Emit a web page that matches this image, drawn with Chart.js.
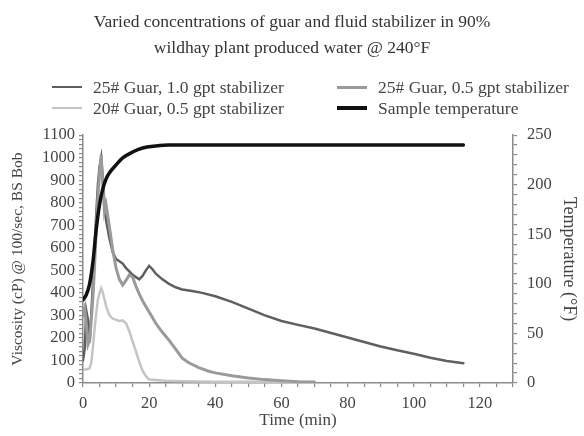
<!DOCTYPE html>
<html>
<head>
<meta charset="utf-8">
<script src="https://cdn.jsdelivr.net/npm/chart.js@4.4.0/dist/chart.umd.min.js"></script>
<style>
  body { margin: 0; background: #fff; }
  #wrap { position: relative; width: 584px; height: 436px; }
  .leg { position: absolute; font: 17.5px "Liberation Serif", serif; line-height: 20px; color: #444; white-space: nowrap; }
  .leg span { position: absolute; top: 50%; left: -41px; width: 30px; }
</style>
</head>
<body>
<div id="wrap">
  <canvas id="chart" width="584" height="436"></canvas>
</div>
<script>
// Time (min) and viscosity (cP)
const guar25hiTime = [0, 0.5, 1, 1.5, 2, 2.5, 3, 3.5, 4, 4.5, 5, 5.5, 6, 6.5, 7, 8, 9, 10, 11, 12, 13, 14, 15, 16, 17, 18, 19, 20, 21, 22, 24, 26, 28, 30, 33, 36, 40, 45, 50, 55, 60, 65, 70, 75, 80, 85, 90, 95, 100, 105, 110, 115];
const guar25hiVisc = [100, 150, 320, 280, 180, 300, 450, 600, 750, 880, 960, 1000, 900, 800, 720, 640, 580, 550, 540, 530, 510, 495, 480, 470, 460, 475, 500, 520, 505, 485, 460, 440, 425, 415, 408, 400, 385, 360, 330, 300, 275, 258, 242, 222, 202, 182, 162, 145, 130, 112, 98, 88];

const guar25loTime = [0, 0.5, 1, 1.5, 2, 2.5, 3, 3.5, 4, 4.5, 5, 5.5, 6, 6.5, 7, 7.5, 8, 9, 10, 11, 12, 13, 14, 15, 16, 17, 18, 19, 20, 22, 24, 26, 28, 30, 32, 35, 38, 40, 45, 50, 55, 60, 65, 70];
const guar25loVisc = [300, 330, 260, 170, 190, 280, 380, 520, 680, 820, 930, 1010, 880, 760, 790, 740, 690, 590, 510, 460, 435, 455, 480, 470, 430, 395, 365, 340, 315, 265, 225, 190, 150, 110, 90, 68, 52, 45, 32, 22, 15, 10, 6, 4];

const guar20Time = [0, 1, 2, 2.5, 3, 3.5, 4, 4.5, 5, 5.5, 6, 6.5, 7, 8, 9, 10, 11, 12, 13, 14, 15, 16, 17, 18, 19, 20, 25, 30, 40, 50, 60, 70];
const guar20Visc = [60, 60, 65, 90, 160, 240, 310, 370, 400, 420, 400, 370, 340, 300, 285, 280, 275, 278, 265, 230, 185, 140, 95, 55, 30, 15, 10, 8, 6, 5, 4, 3];

// Sample temperature (°F)
const tempTime = [0, 1, 2, 3, 4, 5, 6, 7, 8, 10, 12, 15, 18, 22, 26, 40, 60, 80, 100, 115];
const tempVal = [84, 89, 100, 122, 155, 180, 196, 206, 212, 220, 227, 233, 237, 239, 240, 240, 240, 240, 240, 240];

const seriesLabels = ['25# Guar, 1.0 gpt stabilizer', '25# Guar, 0.5 gpt stabilizer', '20# Guar, 0.5 gpt stabilizer', 'Sample temperature'];

const toPoints = (xs, ys) => xs.map((x, i) => ({ x: x, y: ys[i] }));

const serif = '"Liberation Serif", "Times New Roman", serif';
const textColor = '#444';
const axisColor = '#8a8a8a';

const chart = new Chart(document.getElementById('chart'), {
    type: 'line',
    data: {
        datasets: [
            { label: seriesLabels[0], data: toPoints(guar25hiTime, guar25hiVisc), borderColor: '#5f5f5f', borderWidth: 2.5, yAxisID: 'y', order: 3 },
            { label: seriesLabels[1], data: toPoints(guar25loTime, guar25loVisc), borderColor: '#9a9a9a', borderWidth: 3, yAxisID: 'y', order: 2 },
            { label: seriesLabels[2], data: toPoints(guar20Time, guar20Visc), borderColor: '#c4c4c4', borderWidth: 2.5, yAxisID: 'y', order: 4 },
            { label: seriesLabels[3], data: toPoints(tempTime, tempVal), borderColor: '#111', borderWidth: 3.5, yAxisID: 'y2', order: 1, cubicInterpolationMode: 'monotone' }
        ]
    },
    options: {
        responsive: false,
        animation: false,
        elements: { point: { radius: 0 }, line: { tension: 0, borderCapStyle: 'round' } },
        layout: { padding: { top: 0, right: 0, bottom: 0, left: 0 } },
        plugins: {
            legend: { display: false },
            tooltip: { enabled: false },
            title: {
                display: true,
                text: ['Varied concentrations of guar and fluid stabilizer in 90%', 'wildhay plant produced water @ 240°F'],
                color: '#333',
                font: { family: serif, size: 17.5, weight: 'normal', lineHeight: 1.49 },
                padding: { top: 9, bottom: 74 }
            }
        },
        scales: {
            x: {
                type: 'linear',
                min: 0, max: 130,
                border: { color: axisColor, width: 1.5 },
                grid: { drawOnChartArea: false, color: axisColor, tickLength: 4, lineWidth: 1.2 },
                ticks: {
                    stepSize: 5, autoSkip: false, maxRotation: 0, padding: 7,
                    color: textColor, font: { family: serif, size: 16.5 },
                    callback: v => (v % 20 === 0 && v <= 120) ? v : ''
                },
                title: { display: true, text: 'Time (min)', color: textColor, font: { family: serif, size: 17 }, padding: { top: 0, bottom: 5 } },
                afterFit: s => { s.height = 53; }
            },
            y: {
                position: 'left',
                min: 0, max: 1100,
                border: { color: axisColor, width: 1.5 },
                grid: { drawOnChartArea: false, color: axisColor, tickLength: 4, lineWidth: 1.2 },
                ticks: {
                    stepSize: 20, autoSkip: false, padding: 4,
                    color: textColor, font: { family: serif, size: 16.5 },
                    callback: v => v % 100 === 0 ? v : ''
                },
                title: { display: true, text: 'Viscosity (cP) @ 100/sec, BS Bob', color: textColor, font: { family: serif, size: 15.5 }, padding: { top: 9, bottom: 0 } },
                afterFit: s => { s.width = 83; }
            },
            y2: {
                position: 'right',
                min: 0, max: 250,
                border: { color: axisColor, width: 1.5 },
                grid: { drawOnChartArea: false, color: axisColor, tickLength: 4, lineWidth: 1.2 },
                ticks: {
                    stepSize: 10, autoSkip: false, padding: 10,
                    color: textColor, font: { family: serif, size: 16.5 },
                    callback: v => v % 50 === 0 ? v : ''
                },
                title: { display: true, text: 'Temperature (°F)', color: textColor, font: { family: serif, size: 18 }, padding: { top: 4, bottom: 0 } },
                afterFit: s => { s.width = 71; }
            }
        }
    }
});

// Legend in two columns, built from the datasets
const legendSpots = [[93, 87], [378, 87], [93, 108], [378, 108]];
chart.data.datasets.forEach((ds, i) => {
    const el = document.createElement('div');
    el.className = 'leg';
    el.style.left = legendSpots[i][0] + 'px';
    el.style.top = (legendSpots[i][1] - 10) + 'px';
    el.textContent = ds.label;
    const swatch = document.createElement('span');
    swatch.style.height = ds.borderWidth + 'px';
    swatch.style.marginTop = (-ds.borderWidth / 2) + 'px';
    swatch.style.background = ds.borderColor;
    el.appendChild(swatch);
    document.getElementById('wrap').appendChild(el);
});
</script>
</body>
</html>
